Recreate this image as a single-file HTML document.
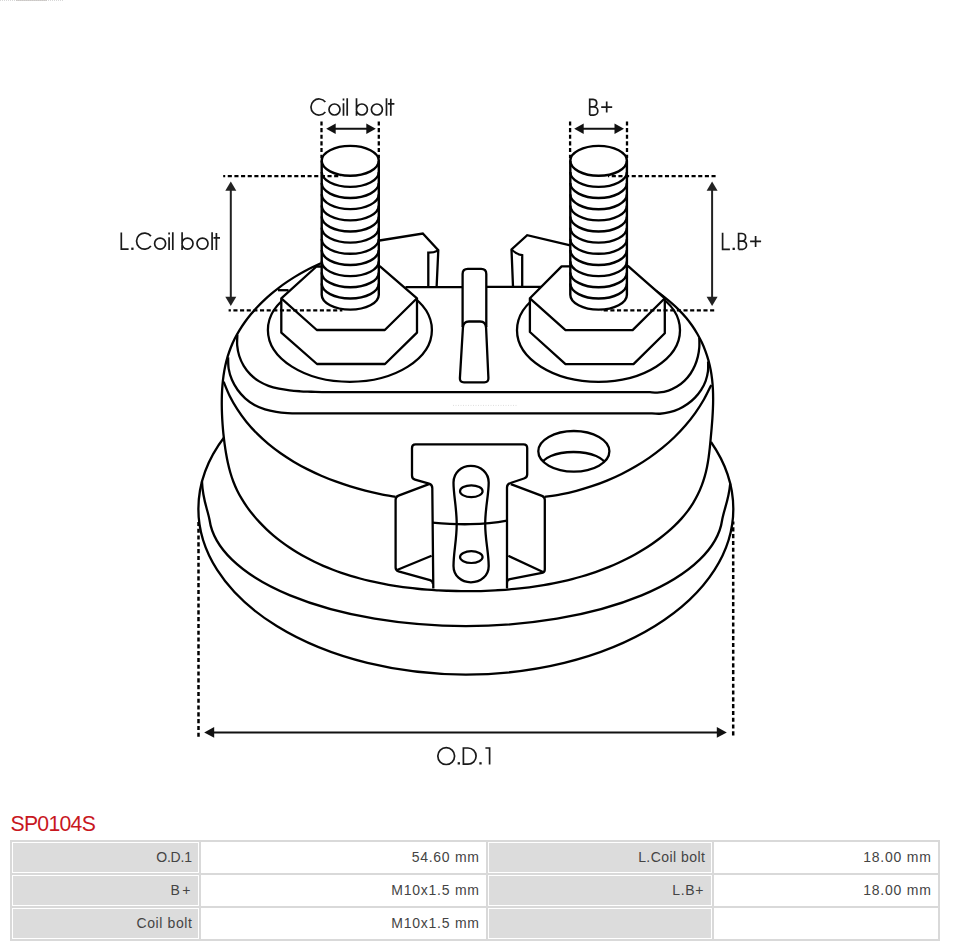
<!DOCTYPE html>
<html><head><meta charset="utf-8"><title>SP0104S</title>
<style>
html,body{margin:0;padding:0;background:#fff}
body{width:954px;height:946px;position:relative;overflow:hidden;font-family:"Liberation Sans",sans-serif}
svg{position:absolute;left:0;top:0}
h1{position:absolute;left:10.5px;top:811px;margin:0;font-weight:400;font-size:21.2px;line-height:26px;color:#c8171e;letter-spacing:-0.7px}
table{position:absolute;left:10px;top:840px;border-collapse:separate;border-spacing:0;border:1px solid #d9d9d9;table-layout:fixed;width:930px}
td{box-sizing:border-box;height:33px;border:1px solid #d9d9d9;padding:0 7px 0 0;text-align:right;font-size:14px;color:#444;white-space:nowrap;background:#fff;vertical-align:middle;line-height:29px}
td.l{background:#dcdcdc;box-shadow:inset 0 0 0 1px #fff}
td span{display:inline-block}
</style></head><body>
<svg width="954" height="800" viewBox="0 0 954 800">
<path d="M0 .4H64" stroke="#c8c8c8" stroke-width=".8" stroke-dasharray="1 1" fill="none"/><path d="M16 .4H47" stroke="#c4c0bc" stroke-width=".8" fill="none"/>
<path d="M224.76 436.5A267.47 167.5 0 0 0 198.38 509.04A267.47 165.5 0 0 0 733.32 509.04A267.47 167.5 0 0 0 710.96 442" fill="#fff" stroke="#000" stroke-width="2.3" />
<path d="M201.99 481.6C202.69 500 207.56 509 209.56 520A256.8 113.2 0 0 0 722.14 520C724.14 509 728.72 500 730.22 483.6" fill="none" stroke="#000" stroke-width="2.3" />
<path d="M321.1 263.2C319.63 263.88 315.17 265.84 312.26 267.26C309.34 268.69 306.46 270.19 303.62 271.75C300.77 273.31 297.96 274.94 295.2 276.63C292.43 278.32 289.7 280.09 287.02 281.91C284.34 283.74 281.7 285.63 279.11 287.58C276.52 289.54 273.98 291.56 271.5 293.66C269.02 295.75 266.59 297.9 264.23 300.13C261.87 302.35 259.56 304.64 257.34 307C255.12 309.36 252.95 311.79 250.89 314.29C248.82 316.78 246.82 319.35 244.93 321.99C243.04 324.62 241.23 327.32 239.55 330.09C237.86 332.86 236.27 335.7 234.81 338.6C233.36 341.49 232.01 344.46 230.81 347.47C229.61 350.48 228.56 353.56 227.62 356.66C226.69 359.77 225.91 362.92 225.22 366.09C224.54 369.26 223.99 372.47 223.53 375.68C223.07 378.89 222.72 382.12 222.45 385.35C222.17 388.58 222 391.83 221.89 395.07C221.78 398.31 221.75 401.56 221.77 404.8C221.79 408.04 221.88 411.29 222.02 414.53C222.15 417.77 222.34 421.01 222.57 424.25C222.8 427.49 223.08 430.72 223.41 433.95C223.75 437.17 224.13 440.4 224.56 443.61C225 446.83 225.48 450.04 226.03 453.24C226.58 456.43 227.16 459.63 227.86 462.8C228.56 465.96 229.33 469.12 230.23 472.24C231.13 475.35 232.13 478.45 233.29 481.48C234.44 484.5 235.74 487.49 237.16 490.4C238.58 493.32 240.14 496.17 241.8 498.96C243.46 501.74 245.25 504.46 247.12 507.11C248.99 509.75 250.97 512.33 253.03 514.84C255.08 517.35 257.23 519.79 259.45 522.16C261.66 524.53 263.96 526.82 266.32 529.05C268.67 531.28 271.1 533.44 273.58 535.54C276.05 537.63 278.6 539.65 281.18 541.61C283.77 543.56 286.42 545.45 289.11 547.26C291.79 549.08 294.53 550.83 297.31 552.51C300.08 554.19 302.9 555.8 305.75 557.34C308.61 558.89 311.5 560.36 314.42 561.78C317.34 563.19 320.29 564.54 323.27 565.83C326.25 567.12 329.25 568.34 332.28 569.51C335.31 570.68 338.36 571.79 341.43 572.84C344.5 573.89 347.59 574.89 350.69 575.83C353.79 576.77 356.92 577.66 360.05 578.5C363.18 579.34 366.33 580.13 369.49 580.88C372.65 581.62 375.82 582.32 379 582.97C382.18 583.62 385.36 584.23 388.56 584.79C391.75 585.36 394.96 585.88 398.17 586.36C401.38 586.84 404.59 587.28 407.81 587.68C411.03 588.08 414.26 588.44 417.48 588.76C420.71 589.09 423.95 589.37 427.18 589.62C430.42 589.88 433.65 590.09 436.89 590.28C440.13 590.46 443.37 590.61 446.62 590.73C449.86 590.85 453.1 590.94 456.35 591C459.59 591.06 462.84 591.09 466.08 591.1C469.33 591.1 472.57 591.08 475.82 591.03C479.06 590.98 482.3 590.91 485.55 590.8C488.79 590.69 492.03 590.55 495.27 590.38C498.51 590.21 501.75 590.01 504.99 589.77C508.22 589.54 511.46 589.27 514.69 588.96C517.92 588.65 521.15 588.31 524.37 587.93C527.59 587.55 530.81 587.13 534.02 586.67C537.23 586.21 540.44 585.71 543.64 585.17C546.84 584.62 550.03 584.04 553.21 583.41C556.4 582.78 559.57 582.11 562.73 581.39C565.9 580.67 569.05 579.9 572.19 579.09C575.33 578.27 578.46 577.41 581.58 576.5C584.69 575.59 587.79 574.63 590.87 573.61C593.95 572.6 597.02 571.53 600.06 570.41C603.11 569.29 606.14 568.11 609.14 566.88C612.14 565.65 615.12 564.36 618.07 563.01C621.02 561.66 623.95 560.26 626.84 558.79C629.73 557.32 632.6 555.8 635.43 554.21C638.26 552.62 641.06 550.97 643.81 549.26C646.57 547.55 649.29 545.78 651.96 543.94C654.64 542.11 657.28 540.21 659.86 538.25C662.44 536.29 664.98 534.27 667.45 532.16C669.92 530.06 672.35 527.9 674.68 525.64C677.01 523.39 679.28 521.06 681.44 518.64C683.59 516.22 685.68 513.71 687.62 511.12C689.56 508.53 691.39 505.84 693.09 503.07C694.78 500.31 696.34 497.45 697.77 494.54C699.2 491.64 700.5 488.65 701.66 485.62C702.82 482.6 703.84 479.51 704.74 476.39C705.63 473.28 706.37 470.11 707.02 466.93C707.67 463.75 708.18 460.54 708.64 457.33C709.11 454.12 709.47 450.9 709.82 447.67C710.17 444.44 710.45 441.21 710.75 437.98C711.05 434.75 711.35 431.52 711.62 428.28C711.89 425.05 712.16 421.82 712.38 418.58C712.6 415.34 712.8 412.1 712.92 408.86C713.05 405.62 713.14 402.37 713.14 399.13C713.13 395.89 713.08 392.64 712.91 389.4C712.74 386.16 712.5 382.92 712.13 379.7C711.76 376.47 711.3 373.25 710.7 370.07C710.09 366.89 709.37 363.71 708.51 360.59C707.64 357.46 706.64 354.37 705.52 351.33C704.39 348.29 703.14 345.28 701.76 342.35C700.38 339.41 698.88 336.53 697.25 333.72C695.63 330.92 693.88 328.17 692.03 325.51C690.17 322.86 688.2 320.27 686.12 317.78C684.05 315.29 681.86 312.88 679.59 310.57C677.31 308.26 674.92 306.06 672.48 303.92C670.05 301.77 667.52 299.73 664.99 297.71C662.46 295.68 659.86 293.72 657.29 291.74C654.73 289.76 652.12 287.82 649.57 285.81C647.02 283.81 644.46 281.81 641.99 279.71C639.51 277.62 637.05 275.49 634.72 273.24C632.39 270.98 629.12 267.37 628 266.2" fill="#fff" stroke="#000" stroke-width="2.3" />
<path d="M237.4 334.6C237.36 336.4 236.87 341.83 237.19 345.4C237.5 348.96 238.19 352.59 239.28 355.99C240.37 359.4 241.88 362.77 243.72 365.83C245.57 368.89 247.84 371.81 250.35 374.36C252.85 376.91 255.74 379.2 258.77 381.11C261.79 383.02 265.14 384.53 268.5 385.8C271.86 387.07 275.39 387.96 278.91 388.73C282.42 389.5 286.02 389.98 289.59 390.4C293.17 390.83 296.78 391.05 300.38 391.28C303.98 391.5 307.59 391.59 311.19 391.74C314.79 391.9 320.2 392.12 322 392.2L650 392.2C651.56 392.24 656.27 392.73 659.35 392.46C662.44 392.18 665.57 391.53 668.51 390.55C671.45 389.57 674.34 388.21 676.99 386.6C679.63 384.99 682.15 383.02 684.39 380.88C686.63 378.73 688.68 376.29 690.43 373.73C692.18 371.17 693.67 368.36 694.91 365.51C696.15 362.66 697.11 359.64 697.85 356.62C698.58 353.59 699.06 350.47 699.3 347.37C699.55 344.26 699.3 339.56 699.3 338" fill="none" stroke="#000" stroke-width="2.3" />
<path d="M228.1 357.4C228.2 359.3 228.05 365.09 228.69 368.83C229.32 372.56 230.45 376.31 231.92 379.8C233.4 383.29 235.32 386.69 237.53 389.78C239.74 392.86 242.35 395.77 245.17 398.3C247.99 400.83 251.17 403.11 254.48 404.96C257.78 406.82 261.4 408.26 265.02 409.42C268.64 410.58 272.43 411.33 276.2 411.94C279.96 412.55 283.79 412.85 287.6 413.1C291.41 413.35 295.24 413.38 299.06 413.42C302.89 413.47 306.71 413.37 310.53 413.37C314.35 413.36 320.09 413.39 322 413.4L650 413.3C651.64 413.37 656.59 413.92 659.86 413.74C663.14 413.57 666.45 413.04 669.63 412.24C672.81 411.44 675.96 410.31 678.94 408.94C681.92 407.57 684.82 405.9 687.5 404.01C690.18 402.12 692.74 399.96 695.01 397.6C697.29 395.25 699.4 392.63 701.16 389.88C702.93 387.12 704.46 384.12 705.59 381.05C706.73 377.98 707.55 374.71 707.96 371.47C708.38 368.23 708.08 363.24 708.1 361.6" fill="none" stroke="#000" stroke-width="2.3" />
<path d="M223.6 381.7C224.62 384.07 227.4 391.32 229.7 395.94C231.99 400.55 234.58 405.06 237.38 409.39C240.18 413.72 243.25 417.9 246.5 421.91C249.75 425.91 253.24 429.75 256.88 433.41C260.51 437.07 264.36 440.55 268.31 443.86C272.27 447.17 276.4 450.3 280.62 453.27C284.84 456.24 289.2 459.03 293.63 461.68C298.07 464.32 302.61 466.8 307.21 469.14C311.82 471.48 316.51 473.66 321.25 475.71C325.99 477.76 330.8 479.66 335.64 481.44C340.49 483.22 345.4 484.86 350.33 486.38C355.26 487.9 360.25 489.29 365.25 490.57C370.25 491.85 375.29 493 380.35 494.04C385.41 495.08 393.06 496.34 395.6 496.8" fill="none" stroke="#000" stroke-width="2.3" />
<path d="M544.8 496.9C547.45 496.48 555.45 495.41 560.72 494.39C565.99 493.38 571.24 492.18 576.43 490.82C581.62 489.46 586.78 487.92 591.87 486.21C596.96 484.51 602.01 482.63 606.97 480.58C611.93 478.54 616.84 476.33 621.65 473.94C626.46 471.56 631.21 469.01 635.83 466.29C640.46 463.57 645.01 460.68 649.41 457.62C653.82 454.56 658.14 451.33 662.29 447.93C666.44 444.53 670.48 440.96 674.33 437.23C678.18 433.49 681.9 429.58 685.4 425.52C688.9 421.46 692.25 417.22 695.35 412.85C698.46 408.47 701.37 403.93 704.03 399.28C706.69 394.62 710.09 387.3 711.3 384.9" fill="none" stroke="#000" stroke-width="2.3" />
<path d="M453 405.4H517" stroke="#ddd" stroke-width="1" stroke-dasharray="1 1.5" fill="none"/>
<clipPath id="hc"><ellipse cx="573.85" cy="451.3" rx="35.55" ry="20.3"/></clipPath>
<ellipse cx="573.5" cy="465.6" rx="32" ry="13.6" fill="none" stroke="#000" stroke-width="2.3" clip-path="url(#hc)"/>
<ellipse cx="573.85" cy="451.3" rx="35.55" ry="20.3" fill="none" stroke="#000" stroke-width="2.3"/>
<path d="M429 484.2L398.5 495.6Q395.6 496.7 395.6 499.7V567.5Q395.6 570.4 398.5 571.3L430 580.2Q433 581 433 584" fill="none" stroke="#000" stroke-width="2.3" />
<path d="M397 570L431.6 555.8" fill="none" stroke="#000" stroke-width="2.3" />
<path d="M510.8 484.2L542 495.8Q544.8 496.9 544.8 499.8V569.5Q544.8 572.4 542 572.9L510 579.1Q507 579.7 507 582.5" fill="none" stroke="#000" stroke-width="2.3" />
<path d="M543 572L508.3 555.8" fill="none" stroke="#000" stroke-width="2.3" />
<path d="M433.3 588.6L432.3 488Q432.3 484.5 429 483.6L415 479.6Q412 478.8 412 475.5V448Q412 444.4 415.5 444.4H523.5Q527.2 444.4 527.2 448V474.5Q527.2 477.5 524 478.5L510.5 483Q507 484 507 487.5V588.6" fill="#fff" stroke="#000" stroke-width="2.3" />
<path d="M470.9 465.8C481 465.8 488.7 473 488.7 482.5C488.7 495 485.2 508 485.2 523.9C485.2 540 488.7 553 488.7 566C488.7 575.5 481 582.3 470.9 582.3C461 582.3 453.5 575.5 453.5 566C453.5 553 456.7 540 456.7 523.9C456.7 508 453.5 495 453.5 482.5C453.5 473 461 465.8 470.9 465.8Z" fill="#fff" stroke="#000" stroke-width="2.3" />
<path d="M432.3 522.6Q455 524.6 470 524.2Q490 523.8 507 520.6" fill="none" stroke="#000" stroke-width="2.3" />
<ellipse cx="471.3" cy="491.2" rx="11.3" ry="5.9" fill="none" stroke="#000" stroke-width="2.2"/>
<ellipse cx="471.3" cy="557.1" rx="11.3" ry="5.9" fill="none" stroke="#000" stroke-width="2.2"/>
<path d="M379.5 240.5L422.8 233.5L438.3 250.2L436.6 287.2" fill="none" stroke="#000" stroke-width="2.3" />
<path d="M428.3 287.2V252.7Q433.5 252.8 438.2 250.4" fill="none" stroke="#000" stroke-width="2.3" />
<path d="M570.3 245.4L527.2 235.2L511.5 249.5L513 286.5" fill="none" stroke="#000" stroke-width="2.3" />
<path d="M522.2 286.5V255.2Q516 254 511.5 249.5" fill="none" stroke="#000" stroke-width="2.3" />
<path d="M405.5 287.2H462.6" fill="none" stroke="#000" stroke-width="2.3" />
<path d="M486.3 286.8H541.5" fill="none" stroke="#000" stroke-width="2.3" />
<path d="M462.6 327V274Q462.6 268.8 467.8 268.8H481.1Q486.3 268.8 486.3 274V327" fill="#fff" stroke="#000" stroke-width="2.3" />
<path d="M462.9 328Q463.1 321.5 469 321.5H480Q485.9 321.5 486.1 328L488.4 378Q488.6 382.4 484.4 382.4H464Q459.6 382.4 459.9 378Z" fill="#fff" stroke="#000" stroke-width="2.3" />
<path d="M278 290.2H288.5" fill="none" stroke="#000" stroke-width="2.3" />
<ellipse cx="349.9" cy="330" rx="82" ry="51.8" fill="none" stroke="#000" stroke-width="2.3"/>
<path d="M316.5 266.5L380 266.3L417 298.3L417 332.6L385 364L317 364L281.3 332.6L281.3 298.3Z" fill="#fff" stroke="#000" stroke-width="2.3" stroke-linejoin="round"/>
<path d="M281.3 298.3L316.8 330L384.8 330L417 298.3" fill="none" stroke="#000" stroke-width="2.3" stroke-linejoin="round"/>
<path d="M321.7 160.8V294.72A28.55 14.9 0 0 0 378.8 294.72V160.8A28.55 14.9 0 0 0 321.7 160.8Z" fill="#fff" stroke="#000" stroke-width="2.4" />
<path d="M321.7 160.8A28.55 14.9 0 0 0 378.8 160.8" fill="none" stroke="#000" stroke-width="2.4" />
<path d="M321.7 171.96A28.55 14.9 0 0 0 378.8 171.96" fill="none" stroke="#000" stroke-width="2.4" />
<path d="M321.7 183.12A28.55 14.9 0 0 0 378.8 183.12" fill="none" stroke="#000" stroke-width="2.4" />
<path d="M321.7 194.28A28.55 14.9 0 0 0 378.8 194.28" fill="none" stroke="#000" stroke-width="2.4" />
<path d="M321.7 205.44A28.55 14.9 0 0 0 378.8 205.44" fill="none" stroke="#000" stroke-width="2.4" />
<path d="M321.7 216.6A28.55 14.9 0 0 0 378.8 216.6" fill="none" stroke="#000" stroke-width="2.4" />
<path d="M321.7 227.76A28.55 14.9 0 0 0 378.8 227.76" fill="none" stroke="#000" stroke-width="2.4" />
<path d="M321.7 238.92A28.55 14.9 0 0 0 378.8 238.92" fill="none" stroke="#000" stroke-width="2.4" />
<path d="M321.7 250.08A28.55 14.9 0 0 0 378.8 250.08" fill="none" stroke="#000" stroke-width="2.4" />
<path d="M321.7 261.24A28.55 14.9 0 0 0 378.8 261.24" fill="none" stroke="#000" stroke-width="2.4" />
<path d="M321.7 272.4A28.55 14.9 0 0 0 378.8 272.4" fill="none" stroke="#000" stroke-width="2.4" />
<path d="M321.7 283.56A28.55 14.9 0 0 0 378.8 283.56" fill="none" stroke="#000" stroke-width="2.4" />
<ellipse cx="598.5" cy="330.3" rx="81.5" ry="51.5" fill="none" stroke="#000" stroke-width="2.3"/>
<path d="M561.6 266.4L628.1 266.2L664.8 298.3L664.8 333.2L633.5 364.1L565.5 364.1L529.9 332L529.9 298.3Z" fill="#fff" stroke="#000" stroke-width="2.3" stroke-linejoin="round"/>
<path d="M529.9 298.3L565.5 330.1L632.6 330.1L664.8 298.3" fill="none" stroke="#000" stroke-width="2.3" stroke-linejoin="round"/>
<path d="M570.3 160.8V294.72A28.3 14.9 0 0 0 626.9 294.72V160.8A28.3 14.9 0 0 0 570.3 160.8Z" fill="#fff" stroke="#000" stroke-width="2.4" />
<path d="M570.3 160.8A28.3 14.9 0 0 0 626.9 160.8" fill="none" stroke="#000" stroke-width="2.4" />
<path d="M570.3 171.96A28.3 14.9 0 0 0 626.9 171.96" fill="none" stroke="#000" stroke-width="2.4" />
<path d="M570.3 183.12A28.3 14.9 0 0 0 626.9 183.12" fill="none" stroke="#000" stroke-width="2.4" />
<path d="M570.3 194.28A28.3 14.9 0 0 0 626.9 194.28" fill="none" stroke="#000" stroke-width="2.4" />
<path d="M570.3 205.44A28.3 14.9 0 0 0 626.9 205.44" fill="none" stroke="#000" stroke-width="2.4" />
<path d="M570.3 216.6A28.3 14.9 0 0 0 626.9 216.6" fill="none" stroke="#000" stroke-width="2.4" />
<path d="M570.3 227.76A28.3 14.9 0 0 0 626.9 227.76" fill="none" stroke="#000" stroke-width="2.4" />
<path d="M570.3 238.92A28.3 14.9 0 0 0 626.9 238.92" fill="none" stroke="#000" stroke-width="2.4" />
<path d="M570.3 250.08A28.3 14.9 0 0 0 626.9 250.08" fill="none" stroke="#000" stroke-width="2.4" />
<path d="M570.3 261.24A28.3 14.9 0 0 0 626.9 261.24" fill="none" stroke="#000" stroke-width="2.4" />
<path d="M570.3 272.4A28.3 14.9 0 0 0 626.9 272.4" fill="none" stroke="#000" stroke-width="2.4" />
<path d="M570.3 283.56A28.3 14.9 0 0 0 626.9 283.56" fill="none" stroke="#000" stroke-width="2.4" />
<path d="M321.5 121.4V158" fill="none" stroke="#000" stroke-width="2.3" stroke-dasharray="4.1 2.55" stroke-dashoffset="0"/>
<path d="M378.8 121.4V158" fill="none" stroke="#000" stroke-width="2.3" stroke-dasharray="4.1 2.55" stroke-dashoffset="0"/>
<path d="M334.7 128.8H367.3" stroke="#111" stroke-width="2" fill="none"/>
<path d="M326.2 128.8L335.7 123.6L335.7 134Z" fill="#111"/>
<path d="M375.8 128.8L366.3 123.6L366.3 134Z" fill="#111"/>
<path d="M570.1 121.4V158" fill="none" stroke="#000" stroke-width="2.3" stroke-dasharray="4.1 2.55" stroke-dashoffset="0"/>
<path d="M627 121.4V158" fill="none" stroke="#000" stroke-width="2.3" stroke-dasharray="4.1 2.55" stroke-dashoffset="0"/>
<path d="M582.7 128.8H615.5" stroke="#111" stroke-width="2" fill="none"/>
<path d="M574.2 128.8L583.7 123.6L583.7 134Z" fill="#111"/>
<path d="M624 128.8L614.5 123.6L614.5 134Z" fill="#111"/>
<path d="M223.2 176.1H341" fill="none" stroke="#000" stroke-width="2.3" stroke-dasharray="4.1 2.55" stroke-dashoffset="2.1"/>
<path d="M228.6 310.3H342.4" fill="none" stroke="#000" stroke-width="2.3" stroke-dasharray="4.1 2.55" stroke-dashoffset="1.85"/>
<path d="M230.8 189.7V297.7" stroke="#222" stroke-width="2" fill="none"/>
<path d="M230.8 181.4L225.3 190.7L236.3 190.7Z" fill="#222"/>
<path d="M230.8 306L225.3 296.7L236.3 296.7Z" fill="#222"/>
<path d="M715.6 176.1H608" fill="none" stroke="#000" stroke-width="2.3" stroke-dasharray="4.1 2.55" stroke-dashoffset="0"/>
<path d="M714.2 310.3H601" fill="none" stroke="#000" stroke-width="2.3" stroke-dasharray="4.1 2.55" stroke-dashoffset="0"/>
<path d="M712.1 189.7V297.7" stroke="#222" stroke-width="2" fill="none"/>
<path d="M712.1 181.4L706.6 190.7L717.6 190.7Z" fill="#222"/>
<path d="M712.1 306L706.6 296.7L717.6 296.7Z" fill="#222"/>
<path d="M198.5 736.8V519.5" fill="none" stroke="#000" stroke-width="2.5" stroke-dasharray="4.1 2.7" stroke-dashoffset="0"/>
<path d="M733.2 735.4V521.5" fill="none" stroke="#000" stroke-width="2.5" stroke-dasharray="4.1 2.7" stroke-dashoffset="0"/>
<path d="M213.2 732.4H717.8" stroke="#111" stroke-width="2" fill="none"/>
<path d="M204.2 732.4L214.2 727L214.2 737.8Z" fill="#111"/>
<path d="M726.8 732.4L716.8 727L716.8 737.8Z" fill="#111"/>
<path d="M325.34 102.04A8.05 8.05 0 1 0 325.34 111.96M329 109.5A5.5 5.5 0 1 0 340 109.5A5.5 5.5 0 1 0 329 109.5ZM343.5 103.2V115.8M343.5 98.5V100.5M347.2 98.2V115.8M356.5 98.2V115.8M356.4 109.5A5.5 5.5 0 1 0 367.4 109.5A5.5 5.5 0 1 0 356.4 109.5ZM371.4 109.5A5.5 5.5 0 1 0 382.4 109.5A5.5 5.5 0 1 0 371.4 109.5ZM386.5 98.2V115.8M390.8 98.8V115.8M387.9 103.8H394.4M589.7 115.1V99.3H593.1A3.8 3.8 0 0 1 593.1 106.89H589.7M593.1 106.89H593.7A4.1 4.1 0 0 1 593.7 115.1H589.7M601.2 107.1H612.2M606.7 101.6V112.6M121.3 232.5V249.2H128.6M150.94 236.14A8.05 8.05 0 1 0 150.94 246.06M154.6 243.6A5.5 5.5 0 1 0 165.6 243.6A5.5 5.5 0 1 0 154.6 243.6ZM169.1 237.3V249.9M169.1 232.6V234.6M172.8 232.3V249.9M182.1 232.3V249.9M182 243.6A5.5 5.5 0 1 0 193 243.6A5.5 5.5 0 1 0 182 243.6ZM197 243.6A5.5 5.5 0 1 0 208 243.6A5.5 5.5 0 1 0 197 243.6ZM212.1 232.3V249.9M216.4 232.9V249.9M213.5 237.9H220M722.6 232.8V249.3H729.9M738.6 249.3V233.5H742A3.8 3.8 0 0 1 742 241.09H738.6M742 241.09H742.6A4.11 4.11 0 0 1 742.6 249.3H738.6M750.1 241.4H761.1M755.6 235.9V246.9M437.8 756.1A8.4 8.4 0 1 0 454.6 756.1A8.4 8.4 0 1 0 437.8 756.1ZM463.4 764.2V748H468A8.1 8.1 0 0 1 468 764.2ZM485.4 748H489.6V764.5" fill="none" stroke="#1a1a1a" stroke-width="1.7"/>
<rect x="131.25" y="247.6" width="2.3" height="2.3" fill="#1a1a1a"/>
<rect x="732.55" y="247.7" width="2.3" height="2.3" fill="#1a1a1a"/>
<rect x="457.65" y="762.2" width="2.3" height="2.3" fill="#1a1a1a"/>
<rect x="479.35" y="762.2" width="2.3" height="2.3" fill="#1a1a1a"/>
</svg>
<h1>SP0104S</h1>
<table><colgroup><col style="width:189px"><col style="width:287px"><col style="width:226px"><col style="width:226px"></colgroup>
<tr><td class="l"><span style="letter-spacing:-0.2px;margin-right:0.20px">O.D.1</span></td><td><span style="letter-spacing:0.73px;margin-right:-0.73px">54.60 mm</span></td><td class="l"><span style="letter-spacing:0.46px;margin-right:-0.46px">L.Coil bolt</span></td><td><span style="letter-spacing:0.79px;margin-right:-0.79px">18.00 mm</span></td></tr>
<tr><td class="l"><span style="letter-spacing:2.4px;margin-right:-0.90px">B+</span></td><td><span style="letter-spacing:0.76px;margin-right:-0.76px">M10x1.5 mm</span></td><td class="l"><span style="letter-spacing:0.7px;margin-right:0.80px">L.B+</span></td><td><span style="letter-spacing:0.79px;margin-right:-0.79px">18.00 mm</span></td></tr>
<tr><td class="l"><span style="letter-spacing:0.62px;margin-right:-0.62px">Coil bolt</span></td><td><span style="letter-spacing:0.76px;margin-right:-0.76px">M10x1.5 mm</span></td><td class="l"><span></span></td><td><span></span></td></tr>
</table>
</body></html>
